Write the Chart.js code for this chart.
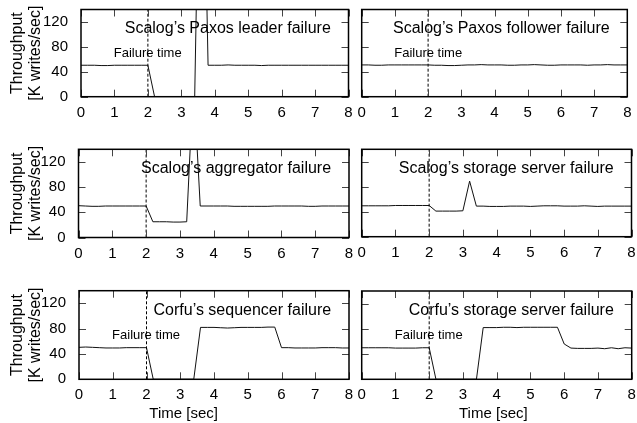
<!DOCTYPE html>
<html>
<head>
<meta charset="utf-8">
<script src="https://cdn.jsdelivr.net/npm/chart.js@4.4.1/dist/chart.umd.min.js"></script>
<style>
    html, body { margin: 0; padding: 0; background: #fff; }
    #fig { position: relative; width: 637px; height: 423px; overflow: hidden; }
    #fig canvas { position: absolute; }
</style>
</head>
<body>
<div id="fig">
    <canvas id="c0" width="355" height="140" style="left:0;top:0"></canvas>
    <canvas id="c1" width="282" height="140" style="left:355px;top:0"></canvas>
    <canvas id="c2" width="355" height="140" style="left:0;top:140px"></canvas>
    <canvas id="c3" width="282" height="140" style="left:355px;top:140px"></canvas>
    <canvas id="c4" width="355" height="143" style="left:0;top:280px"></canvas>
    <canvas id="c5" width="282" height="143" style="left:355px;top:280px"></canvas>
</div>
<script>
// time axis, seconds
const timeSec = [0, 0.2, 0.4, 0.6, 0.8, 1, 1.2, 1.4, 1.6, 1.8,
    2, 2.2, 2.4, 2.6, 2.8, 3, 3.2, 3.4, 3.6, 3.8,
    4, 4.2, 4.4, 4.6, 4.8, 5, 5.2, 5.4, 5.6, 5.8,
    6, 6.2, 6.4, 6.6, 6.8, 7, 7.2, 7.4, 7.6, 7.8, 8];

const xTicks = [0, 1, 2, 3, 4, 5, 6, 7, 8];
const yTicks = [0, 40, 80, 120];
const failureAt = 2;

// throughput, K writes/sec
const paxosLeader = [50.5, 50.5, 50.5, 50, 50, 50.5, 50.5, 50.5, 50.5, 50.5,
    50.5, 0, 0, 0, 0, 0, 0, 0, 600, 50.5,
    50.5, 50.5, 51, 50.5, 50.5, 50.5, 50.5, 50, 50.5, 50.5,
    50.5, 50.5, 50.5, 50.5, 50.5, 50.5, 50.5, 50.5, 50.5, 50.5, 50.5];

const paxosFollower = [51, 51, 50.5, 50.5, 51, 51, 51, 51, 51, 51,
    51, 50.5, 50.5, 50, 50, 50.5, 51, 51, 51.5, 51,
    51, 51, 50.5, 50.5, 51, 51, 51.5, 51, 50.5, 50.5,
    51, 51, 51, 51, 50.5, 51, 51, 51.5, 51, 51, 51];

const aggregator = [50.5, 50, 49.5, 49.5, 50, 50, 50, 50, 50, 50,
    50, 25, 25, 25, 24.5, 24.5, 25, 250, 50, 50,
    50, 50, 50, 49.5, 49.5, 49.5, 49.5, 49.5, 49.5, 50,
    50, 50, 50, 50, 49.5, 49.5, 50, 50, 50, 50, 50];

const scalogStorage = [49.5, 49.5, 49.5, 49.5, 49.5, 50, 50, 50, 50, 50,
    50, 41, 41, 41, 41, 41.5, 89, 49, 49, 48.5,
    48.5, 48.5, 49, 49, 49, 48.5, 49, 49.5, 49.5, 49.5,
    49, 49, 49, 49.5, 49, 48.5, 49, 49, 49, 49, 49];

const corfuSequencer = [50.5, 51, 50.5, 50, 49.5, 49.5, 49.5, 50, 50, 50,
    50, 0, 0, 0, 0, 0, 0, 0, 82, 82,
    82, 81.5, 81, 81.5, 82, 82, 82, 82, 82.5, 82.5,
    50, 50, 49.5, 49.5, 49.5, 49.5, 50, 50, 50, 49.5, 49.5];

const corfuStorage = [50, 50, 50, 50, 50, 49.5, 49.5, 49.5, 49.5, 50,
    50, 0, 0, 0, 0, 0, 0, 0, 82, 82,
    82, 82.5, 82.5, 82, 82.5, 82.5, 82.5, 82.5, 82.5, 82.5,
    56, 49.5, 49, 49, 49, 49.5, 48.5, 50, 48.5, 50, 49.5];

const yTitle = ['Throughput', '[K writes/sec]'];
const xTitle = 'Time [sec]';
const failureLabel = 'Failure time';

Chart.defaults.font.family = '"Liberation Sans", Arial, Helvetica, sans-serif';
Chart.defaults.color = '#000';

const framePlugin = {
    id: 'frame',
    afterDatasetsDraw(chart, args, opts) {
        const {ctx, chartArea: a, scales: {x, y}} = chart;
        ctx.save();

        // failure time marker
        const fx = x.getPixelForValue(failureAt);
        ctx.strokeStyle = '#000';
        ctx.lineWidth = 1;
        ctx.setLineDash([3, 2]);
        ctx.beginPath();
        ctx.moveTo(fx, a.bottom);
        ctx.lineTo(fx, a.top);
        ctx.stroke();
        ctx.setLineDash([]);

        // inward ticks on all four sides
        ctx.strokeStyle = '#444';
        ctx.beginPath();
        xTicks.forEach((v) => {
            const px = Math.round(x.getPixelForValue(v)) + 0.5;
            ctx.moveTo(px, a.bottom); ctx.lineTo(px, a.bottom - 7);
            ctx.moveTo(px, a.top); ctx.lineTo(px, a.top + 7);
        });
        yTicks.forEach((v) => {
            const py = Math.round(y.getPixelForValue(v)) + 0.5;
            ctx.moveTo(a.left, py); ctx.lineTo(a.left + 7, py);
            ctx.moveTo(a.right, py); ctx.lineTo(a.right - 7, py);
        });
        ctx.stroke();

        ctx.strokeStyle = '#000';
        ctx.lineWidth = 1.5;
        ctx.strokeRect(a.left, a.top, a.width, a.height);

        // texts
        ctx.fillStyle = '#000';
        ctx.textBaseline = 'middle';
        ctx.font = '16px "Liberation Sans", Arial, sans-serif';
        ctx.textAlign = 'right';
        ctx.fillText(opts.title, x.getPixelForValue(7.47), y.getPixelForValue(109));

        if (opts.failureLabel) {
            ctx.font = '13px "Liberation Sans", Arial, sans-serif';
            ctx.textAlign = 'left';
            ctx.fillText(failureLabel, x.getPixelForValue(0.98), y.getPixelForValue(70));
        }

        if (opts.xTitleAt !== undefined) {
            ctx.font = '15px "Liberation Sans", Arial, sans-serif';
            ctx.textAlign = 'center';
            ctx.fillText(xTitle, x.getPixelForValue(opts.xTitleAt), chart.height - 9);
        }
        ctx.restore();
    }
};

const panels = [
    {id: 'c0', data: paxosLeader, title: 'Scalog\u2019s Paxos leader failure', left: true,
        yw: 81, top: 9.5, right: 6.5, xh: 43.3, failureLabel: true},
    {id: 'c1', data: paxosFollower, title: 'Scalog\u2019s Paxos follower failure', left: false,
        yw: 6.7, top: 9.5, right: 9.7, xh: 43.3, failureLabel: true},
    {id: 'c2', data: aggregator, title: 'Scalog\u2019s aggregator failure', left: true,
        yw: 78.5, top: 9.3, right: 6, xh: 42.5, failureLabel: false},
    {id: 'c3', data: scalogStorage, title: 'Scalog\u2019s storage server failure', left: false,
        yw: 6.7, top: 9.3, right: 5.5, xh: 43.3, failureLabel: false},
    {id: 'c4', data: corfuSequencer, title: 'Corfu\u2019s sequencer failure', left: true,
        yw: 79, top: 10.7, right: 6, xh: 43.7, failureLabel: true, xTitleAt: 3.1},
    {id: 'c5', data: corfuStorage, title: 'Corfu\u2019s storage server failure', left: false,
        yw: 6.7, top: 11, right: 5.3, xh: 43.7, failureLabel: true, xTitleAt: 3.9}
];

panels.forEach((p) => {
    new Chart(document.getElementById(p.id), {
        type: 'line',
        data: {
            datasets: [{
                data: timeSec.map((t, i) => ({x: t, y: p.data[i]})),
                borderColor: '#111',
                borderWidth: 1,
                pointRadius: 0,
                tension: 0,
                fill: false
            }]
        },
        options: {
            responsive: false,
            animation: false,
            layout: {padding: {left: 0, top: p.top, right: p.right, bottom: 0}},
            plugins: {
                legend: {display: false},
                tooltip: {enabled: false},
                frame: {title: p.title, failureLabel: p.failureLabel, xTitleAt: p.xTitleAt}
            },
            scales: {
                x: {
                    type: 'linear',
                    min: 0,
                    max: 8,
                    afterBuildTicks: (s) => { s.ticks = xTicks.map((v) => ({value: v})); },
                    afterFit: (s) => {
                        s.height = p.xh;
                        s.paddingLeft = 0;
                        s.paddingRight = 0;
                    },
                    grid: {display: false, drawTicks: false},
                    border: {display: false},
                    ticks: {padding: 7, font: {size: 15}, maxRotation: 0, autoSkip: false}
                },
                y: {
                    min: 0,
                    max: 140,
                    afterBuildTicks: (s) => { s.ticks = yTicks.map((v) => ({value: v})); },
                    afterFit: (s) => {
                        s.width = p.yw;
                        s.paddingTop = 0;
                        s.paddingBottom = 0;
                    },
                    grid: {display: false, drawTicks: false},
                    border: {display: false},
                    ticks: {display: p.left, padding: 13, font: {size: 15}},
                    title: {
                        display: p.left,
                        text: yTitle,
                        font: {size: 16, lineHeight: 1.125},
                        padding: {top: 9, bottom: 0}
                    }
                }
            }
        },
        plugins: [framePlugin]
    });
});
</script>
</body>
</html>
